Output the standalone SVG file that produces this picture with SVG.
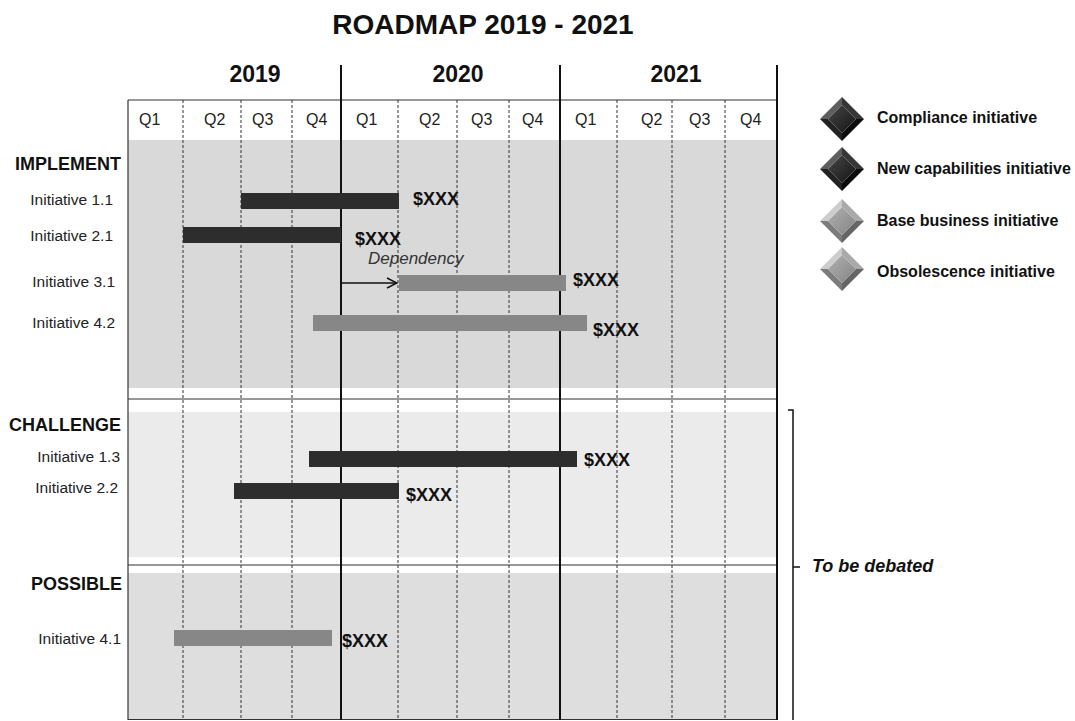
<svg xmlns="http://www.w3.org/2000/svg" width="1075" height="721" viewBox="0 0 1075 721">
  <style>
    text { font-family: "Liberation Sans", Arial, sans-serif; fill: #111; }
    .title { font-size: 28px; font-weight: bold; }
    .year { font-size: 23px; font-weight: bold; }
    .q { font-size: 16px; fill: #222; }
    .sect { font-size: 18px; font-weight: bold; text-anchor: end; }
    .init { font-size: 15.5px; text-anchor: end; fill: #222; }
    .cost { font-size: 18px; font-weight: bold; }
    .legend { font-size: 16px; font-weight: bold; }
    .note { font-size: 18px; font-weight: bold; font-style: italic; }
    .dep { font-size: 17px; font-style: italic; fill: #333; }
    .dot { stroke: #333; stroke-width: 1; stroke-dasharray: 3 2; }
    .yearline { stroke: #111; stroke-width: 2; }
    .rule { stroke: #333; stroke-width: 1.2; }
    .dark { fill: #2d2d2d; }
    .light { fill: #878787; }
  </style>
  <defs>
    <marker id="chevron" viewBox="0 0 12 12" refX="11" refY="6" markerWidth="12" markerHeight="12" markerUnits="userSpaceOnUse" orient="auto">
      <path d="M1,1 L11,6 L1,11" fill="none" stroke="#111" stroke-width="1.5"/>
    </marker>
    <linearGradient id="gemDarkCore" x1="0" y1="0" x2="1" y2="1">
      <stop offset="0" stop-color="#474747"/>
      <stop offset="1" stop-color="#141414"/>
    </linearGradient>
    <linearGradient id="gemGrayCore" x1="0" y1="0" x2="1" y2="1">
      <stop offset="0" stop-color="#b0b0b0"/>
      <stop offset="1" stop-color="#848484"/>
    </linearGradient>
    <g id="gemDark">
      <polygon points="-22,0 0,-22 0,-14 -14,0" fill="#5e5e5e"/>
      <polygon points="0,-22 22,0 14,0 0,-14" fill="#363636"/>
      <polygon points="22,0 0,22 0,14 14,0" fill="#0c0c0c"/>
      <polygon points="0,22 -22,0 -14,0 0,14" fill="#222"/>
      <polygon points="0,-14 14,0 0,14 -14,0" fill="url(#gemDarkCore)"/>
    </g>
    <g id="gemGray">
      <polygon points="-22,0 0,-22 0,-14 -14,0" fill="#cdcdcd"/>
      <polygon points="0,-22 22,0 14,0 0,-14" fill="#a9a9a9"/>
      <polygon points="22,0 0,22 0,14 14,0" fill="#656565"/>
      <polygon points="0,22 -22,0 -14,0 0,14" fill="#7c7c7c"/>
      <polygon points="0,-14 14,0 0,14 -14,0" fill="url(#gemGrayCore)"/>
    </g>
  </defs>

  <rect width="1075" height="721" fill="#fff"/>

  <text class="title" x="483" y="34" text-anchor="middle">ROADMAP 2019 - 2021</text>

  <!-- band backgrounds -->
  <g id="bands">
    <rect x="128" y="140" width="649" height="248" fill="#d9d9d9"/>
    <rect x="128" y="412" width="649" height="145" fill="#ebebeb"/>
    <rect x="128" y="573" width="649" height="147" fill="#dedede"/>
  </g>

  <!-- timeline grid -->
  <g id="grid">
    <line class="dot" x1="183" y1="100" x2="183" y2="720"/>
    <line class="dot" x1="241" y1="100" x2="241" y2="720"/>
    <line class="dot" x1="292" y1="100" x2="292" y2="720"/>
    <line class="dot" x1="398" y1="100" x2="398" y2="720"/>
    <line class="dot" x1="457" y1="100" x2="457" y2="720"/>
    <line class="dot" x1="509" y1="100" x2="509" y2="720"/>
    <line class="dot" x1="617" y1="100" x2="617" y2="720"/>
    <line class="dot" x1="672" y1="100" x2="672" y2="720"/>
    <line class="dot" x1="725" y1="100" x2="725" y2="720"/>
    <line class="rule" x1="128" y1="100" x2="777" y2="100"/>
    <line class="rule" x1="128" y1="399" x2="777" y2="399"/>
    <line class="rule" x1="128" y1="565" x2="777" y2="565"/>
    <line class="rule" x1="128" y1="719.5" x2="777" y2="719.5"/>
    <line class="rule" x1="128" y1="100" x2="128" y2="720"/>
    <line class="yearline" x1="341" y1="65" x2="341" y2="720"/>
    <line class="yearline" x1="560" y1="65" x2="560" y2="720"/>
    <line class="yearline" x1="777" y1="65" x2="777" y2="720"/>
  </g>

  <g id="years">
    <text class="year" x="255" y="82" text-anchor="middle">2019</text>
    <text class="year" x="458" y="82" text-anchor="middle">2020</text>
    <text class="year" x="676" y="82" text-anchor="middle">2021</text>
  </g>

  <g id="quarters">
    <text class="q" x="139" y="125">Q1</text>
    <text class="q" x="204" y="125">Q2</text>
    <text class="q" x="252" y="125">Q3</text>
    <text class="q" x="306" y="125">Q4</text>
    <text class="q" x="356" y="125">Q1</text>
    <text class="q" x="419" y="125">Q2</text>
    <text class="q" x="471" y="125">Q3</text>
    <text class="q" x="522" y="125">Q4</text>
    <text class="q" x="575" y="125">Q1</text>
    <text class="q" x="641" y="125">Q2</text>
    <text class="q" x="689" y="125">Q3</text>
    <text class="q" x="740" y="125">Q4</text>
  </g>

  <!-- IMPLEMENT -->
  <g id="implement">
    <text class="sect" x="121" y="170">IMPLEMENT</text>
  </g>
  <g id="init-1-1">
    <text class="init" x="113" y="205">Initiative 1.1</text>
    <rect class="dark" x="241" y="193" width="158" height="16"/>
    <text class="cost" x="413" y="205">$XXX</text>
  </g>
  <g id="init-2-1">
    <text class="init" x="113" y="241">Initiative 2.1</text>
    <rect class="dark" x="183" y="227" width="158" height="16"/>
    <text class="cost" x="355" y="245">$XXX</text>
  </g>
  <g id="init-3-1">
    <text class="init" x="115" y="287">Initiative 3.1</text>
    <rect class="light" x="399" y="275" width="167" height="16"/>
    <text class="cost" x="573" y="286">$XXX</text>
  </g>
  <g id="init-4-2">
    <text class="init" x="115" y="328">Initiative 4.2</text>
    <rect class="light" x="313" y="315" width="274" height="16"/>
    <text class="cost" x="593" y="336">$XXX</text>
  </g>

  <!-- CHALLENGE -->
  <g id="challenge">
    <text class="sect" x="121" y="431">CHALLENGE</text>
  </g>
  <g id="init-1-3">
    <text class="init" x="120" y="462">Initiative 1.3</text>
    <rect class="dark" x="309" y="451" width="268" height="16"/>
    <text class="cost" x="584" y="466">$XXX</text>
  </g>
  <g id="init-2-2">
    <text class="init" x="118" y="493">Initiative 2.2</text>
    <rect class="dark" x="234" y="483" width="165" height="16"/>
    <text class="cost" x="406" y="501">$XXX</text>
  </g>

  <!-- POSSIBLE -->
  <g id="possible">
    <text class="sect" x="122" y="590">POSSIBLE</text>
  </g>
  <g id="init-4-1">
    <text class="init" x="121" y="644">Initiative 4.1</text>
    <rect class="light" x="174" y="630" width="158" height="16"/>
    <text class="cost" x="342" y="647">$XXX</text>
  </g>

  <!-- dependency link -->
  <g id="connectors">
    <path d="M341,243 V283 H397" fill="none" stroke="#111" stroke-width="1.5" marker-end="url(#chevron)"/>
    <text class="dep" x="368" y="264">Dependency</text>
  </g>

  <!-- legend -->
  <g id="legend-compliance">
    <use href="#gemDark" x="842" y="119"/>
    <text class="legend" x="877" y="123">Compliance initiative</text>
  </g>
  <g id="legend-capabilities">
    <use href="#gemDark" x="842" y="169"/>
    <text class="legend" x="877" y="174">New capabilities initiative</text>
  </g>
  <g id="legend-base">
    <use href="#gemGray" x="842" y="221"/>
    <text class="legend" x="877" y="226">Base business initiative</text>
  </g>
  <g id="legend-obsolescence">
    <use href="#gemGray" x="842" y="269"/>
    <text class="legend" x="877" y="277">Obsolescence initiative</text>
  </g>

  <!-- bracket over CHALLENGE and POSSIBLE -->
  <g id="debate">
    <path d="M788,410 H793 V720 M793,567 H800" fill="none" stroke="#111" stroke-width="1.5"/>
    <text class="note" x="812" y="572">To be debated</text>
  </g>
</svg>
